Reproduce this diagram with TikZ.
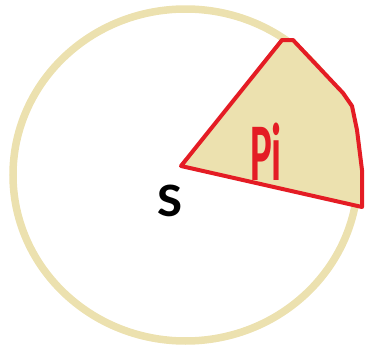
\documentclass[tikz,border=0pt]{standalone}
\usepackage{fontspec}
\setmainfont{Carlito}
\definecolor{beige}{RGB}{236,225,175}
\definecolor{penred}{RGB}{228,28,36}
\tikzset{
  ring/.style={draw=beige, line width=7.5pt},
  sector/.style={draw=penred, fill=beige, line width=4pt, line join=round},
  lbl/.style={inner sep=0pt, font=\fontsize{48}{48}\selectfont\bfseries, xscale=1.1},
  hand/.style={inner sep=0pt, text=penred, font=\fontsize{82}{82}\selectfont\bfseries, xscale=0.5}
}
\begin{document}
\begin{tikzpicture}[x=1pt,y=-1pt]
\useasboundingbox (0,0) rectangle (365,351);
\coordinate (ctr) at (185.5,175);
\draw[ring] (ctr) ellipse [x radius=172.5, y radius=166];
\coordinate (apex) at (181,166);
\coordinate (t1) at (282,40);
\coordinate (t2) at (293,40);
\coordinate (t3) at (343,93);
\coordinate (t4) at (352,106);
\coordinate (t5) at (357,130);
\coordinate (t6) at (362,170);
\coordinate (t7) at (362,207);
\draw[sector] (apex) -- (t1) -- (t2) -- (t3) -- (t4) -- (t5) -- (t6) -- (t7) -- cycle;
\node[lbl] (s) at (170,201) {S};
\node[hand] (pi) at (266,152) {Pi};
\end{tikzpicture}
\end{document}
